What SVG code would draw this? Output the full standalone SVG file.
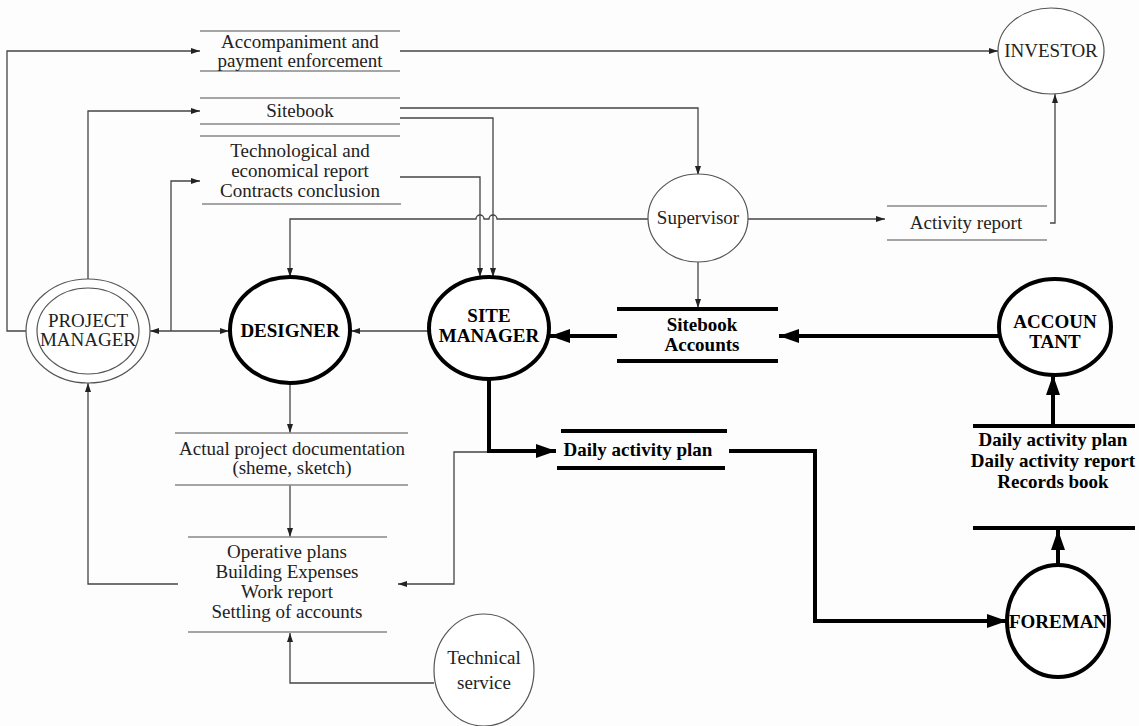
<svg xmlns="http://www.w3.org/2000/svg" width="1139" height="726" viewBox="0 0 1139 726">
<defs>
<marker id="a" markerUnits="userSpaceOnUse" markerWidth="9" markerHeight="6" refX="9" refY="3" orient="auto-start-reverse"><path d="M0,0 L9,3 L0,6 z" fill="#222"/></marker>
<marker id="A" markerUnits="userSpaceOnUse" markerWidth="20" markerHeight="14" refX="20" refY="7" orient="auto"><path d="M0,0 L20,7 L0,14 z" fill="#000"/></marker>
<style>
.t{font-family:"Liberation Serif","Times New Roman",serif;font-size:19px;fill:#222;text-anchor:middle}
.b{font-family:"Liberation Serif","Times New Roman",serif;font-size:19px;font-weight:bold;fill:#000;text-anchor:middle}
.st{stroke:#888;stroke-width:1.5;fill:none}
.sb{stroke:#000;stroke-width:4;fill:none}
.c{stroke:#444;stroke-width:1.3;fill:none}
.ct{stroke:#000;stroke-width:4;fill:none}
.pt{fill:#fff;stroke:#555;stroke-width:1.2}
.pb{fill:#fff;stroke:#000;stroke-width:4}
</style>
</defs>
<rect width="1139" height="726" fill="#fdfdfd"/>
<g id="connectors">
<path class="c" d="M26,331 H7 V51 H200" marker-end="url(#a)"/>
<path class="c" d="M88,279 V111 H200" marker-end="url(#a)"/>
<path class="c" d="M150,331 H229" marker-start="url(#a)" marker-end="url(#a)"/>
<path class="c" d="M171,331 V181 H200" marker-end="url(#a)"/>
<path class="c" d="M400,51 H998" marker-end="url(#a)"/>
<path class="c" d="M400,108 H698 V175" marker-end="url(#a)"/>
<path class="c" d="M400,118 H493 V277" marker-end="url(#a)"/>
<path class="c" d="M400,177 H480 V277" marker-end="url(#a)"/>
<path class="c" d="M648,219 H497 a4,4 0 0 0 -8,0 H484 a4,4 0 0 0 -8,0 H290 V277" marker-end="url(#a)"/>
<path class="c" d="M748,219 H885" marker-end="url(#a)"/>
<path class="c" d="M1050,223 H1055 V94" marker-end="url(#a)"/>
<path class="c" d="M698,262 V308" marker-end="url(#a)"/>
<path class="c" d="M429,331 H351" marker-end="url(#a)"/>
<path class="c" d="M290,383 V433" marker-end="url(#a)"/>
<path class="c" d="M290,485 V537" marker-end="url(#a)"/>
<path class="c" d="M178,584 H88 V383" marker-end="url(#a)"/>
<path class="c" d="M434,683 H290 V633" marker-end="url(#a)"/>
<path class="c" d="M489,452 H454 V584 H398" marker-end="url(#a)"/>
<path class="ct" d="M489,379 V451 H556" marker-end="url(#A)"/>
<path class="ct" d="M729,451 H815 V621 H1007" marker-end="url(#A)"/>
<path class="ct" d="M1058,565 V530" marker-end="url(#A)"/>
<path class="ct" d="M1053,425 V375" marker-end="url(#A)"/>
<path class="ct" d="M999,336 H779" marker-end="url(#A)"/>
<path class="ct" d="M617,336 H550" marker-end="url(#A)"/>
</g>
<g id="project-manager">
<ellipse class="pt" cx="88" cy="331" rx="62" ry="52"/>
<ellipse class="pt" cx="88" cy="331" rx="51" ry="43"/>
<text class="t" x="88" y="327">PROJECT</text>
<text class="t" x="88" y="346">MANAGER</text>
</g>
<g id="designer">
<ellipse class="pb" cx="290" cy="330" rx="60" ry="53"/>
<text class="b" x="290" y="337">DESIGNER</text>
</g>
<g id="site-manager">
<ellipse class="pb" cx="489" cy="328" rx="60" ry="51"/>
<text class="b" x="489" y="322">SITE</text>
<text class="b" x="489" y="342">MANAGER</text>
</g>
<g id="supervisor">
<ellipse class="pt" cx="698" cy="218" rx="50" ry="44"/>
<text class="t" x="698" y="224">Supervisor</text>
</g>
<g id="investor">
<ellipse class="pt" cx="1051" cy="51" rx="53" ry="43"/>
<text class="t" x="1051" y="57">INVESTOR</text>
</g>
<g id="accountant">
<ellipse class="pb" cx="1055" cy="327" rx="56" ry="48"/>
<text class="b" x="1055" y="328">ACCOUN</text>
<text class="b" x="1055" y="348">TANT</text>
</g>
<g id="foreman">
<ellipse class="pb" cx="1058" cy="621" rx="51" ry="56"/>
<text class="b" x="1058" y="628">FOREMAN</text>
</g>
<g id="technical-service">
<ellipse class="pt" cx="484" cy="670" rx="50" ry="56"/>
<text class="t" x="484" y="664">Technical</text>
<text class="t" x="484" y="689">service</text>
</g>
<g id="store-accompaniment">
<path class="st" d="M200,31 H400 M200,71 H400"/>
<text class="t" x="300" y="48">Accompaniment and</text>
<text class="t" x="300" y="67">payment enforcement</text>
</g>
<g id="store-sitebook">
<path class="st" d="M200,98 H400 M200,124 H400"/>
<text class="t" x="300" y="117">Sitebook</text>
</g>
<g id="store-tech-report">
<path class="st" d="M200,136 H400 M202,204 H401"/>
<text class="t" x="300" y="157">Technological and</text>
<text class="t" x="300" y="177">economical report</text>
<text class="t" x="300" y="197">Contracts conclusion</text>
</g>
<g id="store-activity-report">
<path class="st" d="M887,206 H1047 M887,240 H1047"/>
<text class="t" x="966" y="229">Activity report</text>
</g>
<g id="store-sitebook-accounts">
<path class="sb" d="M617,309 H778 M617,361 H778"/>
<text class="b" x="702" y="331">Sitebook</text>
<text class="b" x="702" y="351">Accounts</text>
</g>
<g id="store-actual-doc">
<path class="st" d="M175,433 H408 M175,485 H408"/>
<text class="t" x="292" y="455">Actual project documentation</text>
<text class="t" x="292" y="474">(sheme, sketch)</text>
</g>
<g id="store-operative">
<path class="st" d="M188,537 H387 M188,632 H387"/>
<text class="t" x="287" y="558">Operative plans</text>
<text class="t" x="287" y="578">Building Expenses</text>
<text class="t" x="287" y="598">Work report</text>
<text class="t" x="287" y="618">Settling of accounts</text>
</g>
<g id="store-daily-plan">
<path class="sb" d="M561,431 H727 M557,468 H725"/>
<text class="b" x="638" y="456">Daily activity plan</text>
</g>
<g id="store-foreman-records">
<path class="sb" d="M973,426 H1135 M973,528 H1135"/>
<text class="b" x="1053" y="446">Daily activity plan</text>
<text class="b" x="1053" y="467">Daily activity report</text>
<text class="b" x="1053" y="488">Records book</text>
</g>
</svg>
